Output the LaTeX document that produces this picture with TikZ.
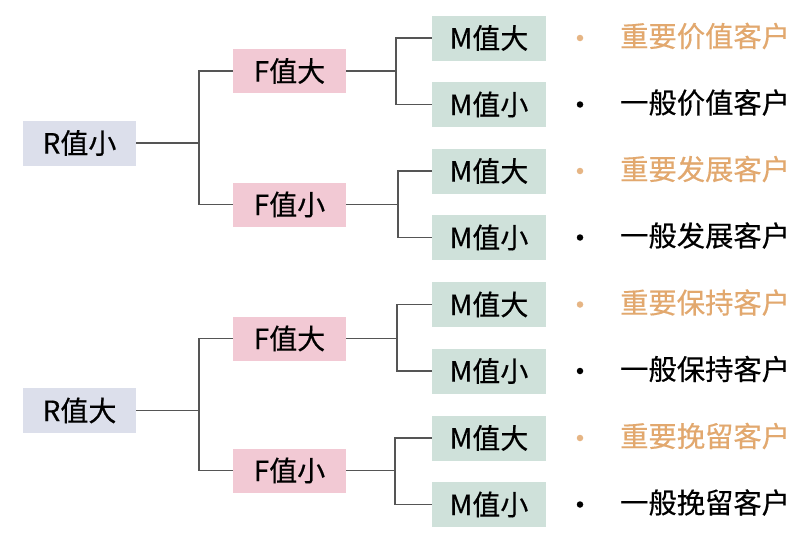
\documentclass[tikz,border=0pt]{standalone}
\usepackage{fontspec}
\setmainfont{Noto Sans CJK SC}
\newfontfamily\cjk[FakeBold=0.35]{Noto Sans CJK SC}
\definecolor{rfill}{HTML}{DCDFEB}
\definecolor{ffill}{HTML}{F2C9D4}
\definecolor{mfill}{HTML}{CFE1DA}
\definecolor{imp}{HTML}{E2A86E}
\definecolor{lin}{HTML}{555555}
\begin{document}
\begin{tikzpicture}[x=1pt,y=-1pt,
  box/.style={inner sep=0pt,minimum height=45pt,font=\cjk\fontsize{28}{28}\selectfont,text=black},
  rbox/.style={box,fill=rfill,minimum width=113pt},
  fbox/.style={box,fill=ffill,minimum width=113pt,minimum height=44pt},
  mbox/.style={box,fill=mfill,minimum width=114pt},
  conn/.style={draw=lin,line width=1.6pt},
  lbl/.style={anchor=west,inner sep=0pt,font=\cjk\fontsize{28.3}{28.3}\selectfont},
  dot/.style={circle,inner sep=0pt,minimum size=6.5pt}
]
\useasboundingbox[fill=white] (0,0) rectangle (812,538);

\node[rbox] (R1) at (79.5,143) {R值小};
\node[rbox] (R2) at (79.5,410.5) {R值大};

\node[fbox] (F1) at (289.5,71) {F值大};
\node[fbox] (F2) at (289.5,204.5) {F值小};
\node[fbox] (F3) at (289.5,338.5) {F值大};
\node[fbox] (F4) at (289.5,470.5) {F值小};

\node[mbox] (M1) at (489,38) {M值大};
\node[mbox] (M2) at (489,104.5) {M值小};
\node[mbox] (M3) at (489,171) {M值大};
\node[mbox] (M4) at (489,237.5) {M值小};
\node[mbox] (M5) at (489,304.5) {M值大};
\node[mbox] (M6) at (489,371) {M值小};
\node[mbox] (M7) at (489,438) {M值大};
\node[mbox] (M8) at (489,504.5) {M值小};

\draw[conn] (F1.west) -- ++(-34,0) |- (R1.east);
\draw[conn] (F2.west) -- ++(-34,0) |- (R1.east);
\draw[conn] (F3.west) -- ++(-34,0) |- (R2.east);
\draw[conn] (F4.west) -- ++(-34,0) |- (R2.east);

\draw[conn] (M1.west) -- ++(-36,0) |- (F1.east);
\draw[conn] (M2.west) -- ++(-36,0) |- (F1.east);
\draw[conn] (M3.west) -- ++(-34,0) |- (F2.east);
\draw[conn] (M4.west) -- ++(-34,0) |- (F2.east);
\draw[conn] (M5.west) -- ++(-35,0) |- (F3.east);
\draw[conn] (M6.west) -- ++(-35,0) |- (F3.east);
\draw[conn] (M7.west) -- ++(-37,0) |- (F4.east);
\draw[conn] (M8.west) -- ++(-37,0) |- (F4.east);

\node[dot,fill=imp!85] (b1) at (580,38) {};
\node[dot,fill=black] (b2) at (580,104.5) {};
\node[dot,fill=imp!85] (b3) at (580,171) {};
\node[dot,fill=black] (b4) at (580,237.5) {};
\node[dot,fill=imp!85] (b5) at (580,304.5) {};
\node[dot,fill=black] (b6) at (580,371) {};
\node[dot,fill=imp!85] (b7) at (580,438) {};
\node[dot,fill=black] (b8) at (580,504.5) {};

\node[lbl,text=imp] (t1) at (620,36) {重要价值客户};
\node[lbl,text=black] (t2) at (620,102.5) {一般价值客户};
\node[lbl,text=imp] (t3) at (620,169) {重要发展客户};
\node[lbl,text=black] (t4) at (620,235.5) {一般发展客户};
\node[lbl,text=imp] (t5) at (620,302.5) {重要保持客户};
\node[lbl,text=black] (t6) at (620,369) {一般保持客户};
\node[lbl,text=imp] (t7) at (620,436) {重要挽留客户};
\node[lbl,text=black] (t8) at (620,502.5) {一般挽留客户};
\end{tikzpicture}
\end{document}
